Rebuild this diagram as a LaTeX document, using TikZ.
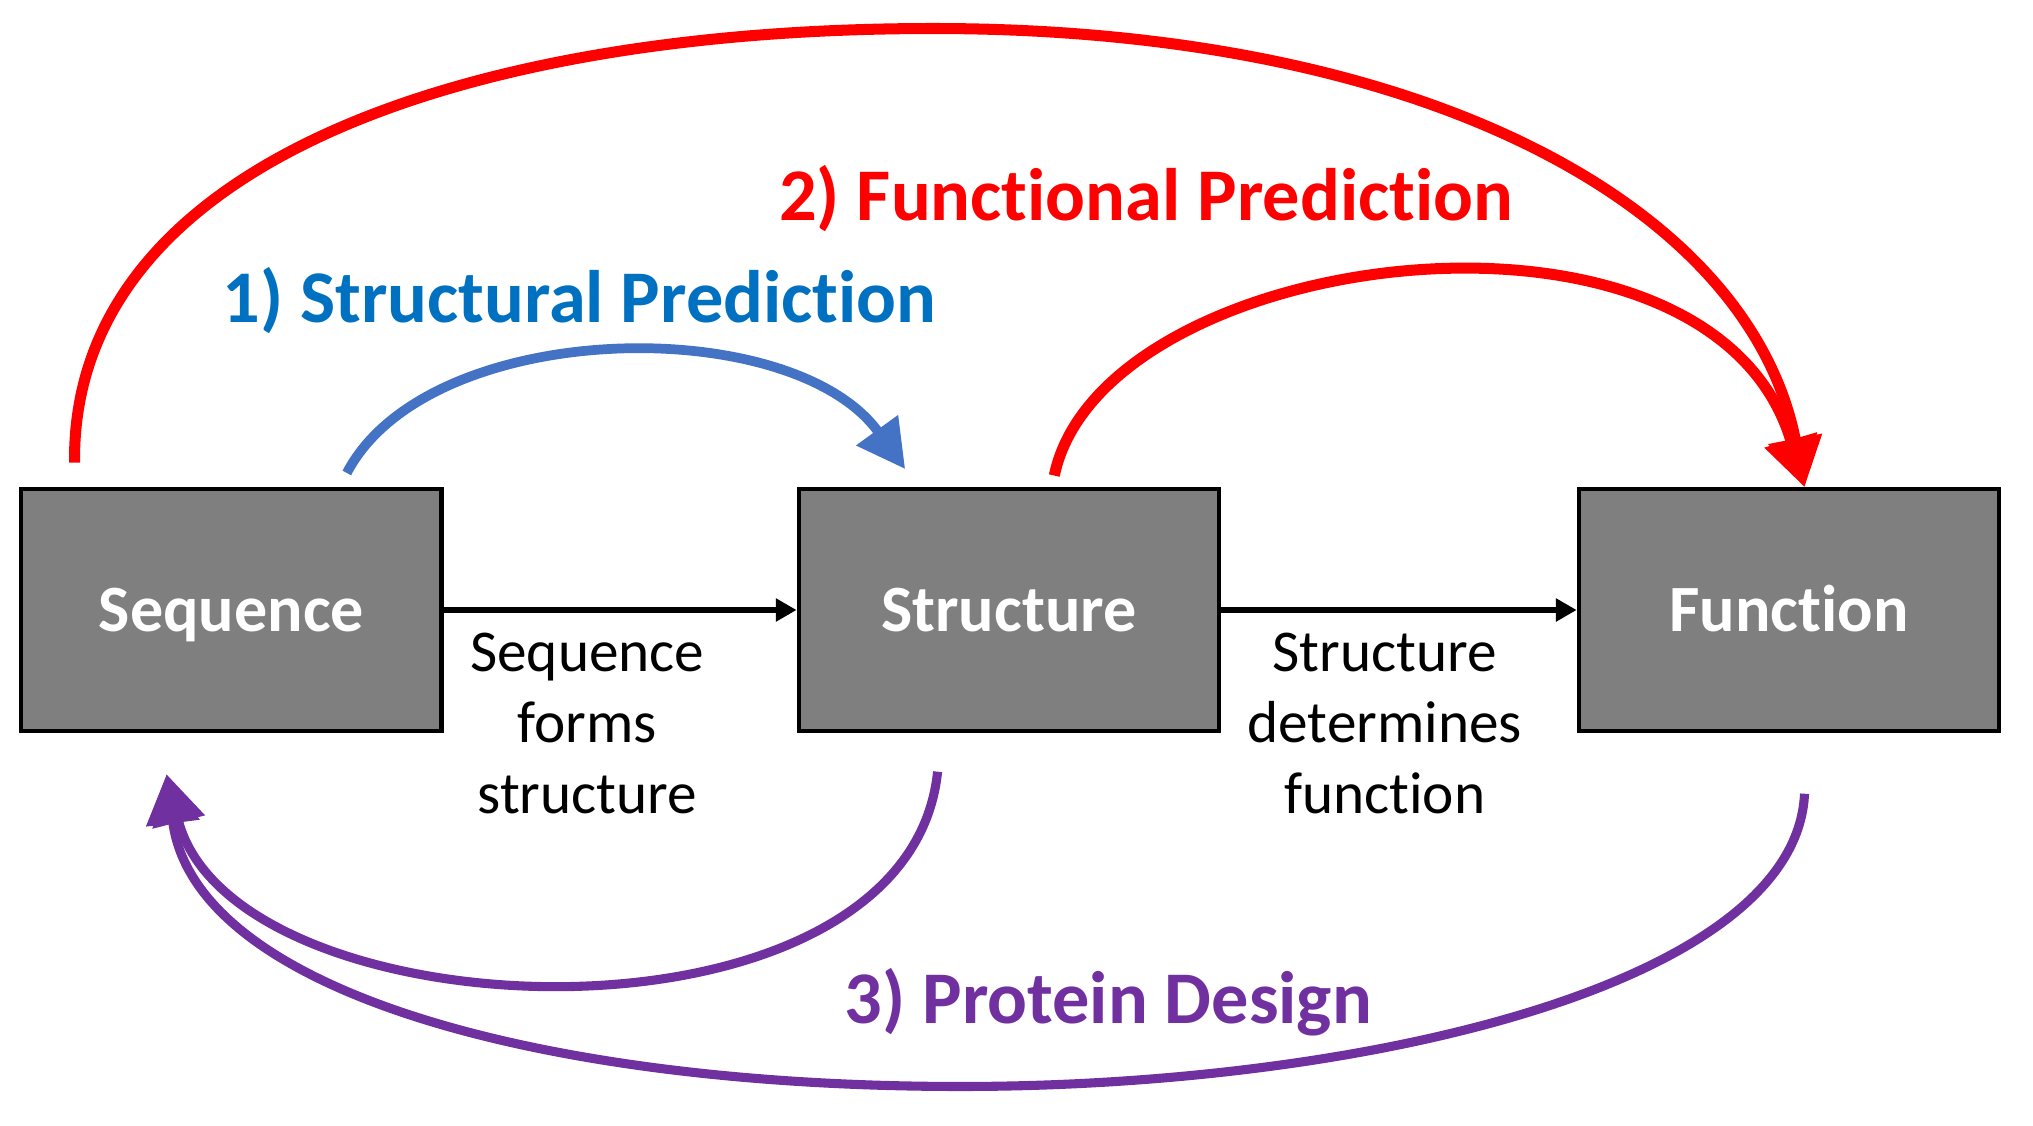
\documentclass[tikz,border=0pt]{standalone}
\usepackage{fontspec}
\setmainfont{Carlito}[Ligatures=NoCommon]
\usetikzlibrary{positioning,calc,arrows.meta}

\definecolor{boxgray}{HTML}{7F7F7F}
\definecolor{predblue}{HTML}{4472C4}
\definecolor{predbluetext}{HTML}{0070C0}
\definecolor{designpurple}{HTML}{7030A0}

\tikzset{
  box/.style={draw=black, line width=0.033cm, fill=boxgray, minimum width=3.24cm,
    minimum height=1.86cm, inner sep=0pt, text=white, text height=0.33cm, text depth=0pt,
    font=\fontsize{14.5}{17}\selectfont\bfseries},
  link/.style={line width=0.04cm, -{Triangle[length=0.16cm,width=0.17cm]}},
  note/.style={align=center, font=\fontsize{13}{15.6}\selectfont},
  title/.style={font=\fontsize{16.3}{19}\selectfont\bfseries},
  bluearc/.style={predblue, line width=0.075cm, -{Triangle[length=0.37cm,width=0.38cm]}},
  redarc/.style={red, line width=0.085cm, -{Triangle[length=0.38cm,width=0.4cm]}},
  purparc/.style={designpurple, line width=0.07cm, -{Triangle[length=0.38cm,width=0.4cm]}},
}

\begin{document}
\begin{tikzpicture}[x=0.01cm,y=-0.01cm]
\useasboundingbox (0,0) rectangle (1568,868);

\node[box] (seq) at (178.5,470.5) {Sequence};
\node[box, right=2.72cm of seq] (struc) {Structure};
\node[box, right=2.74cm of struc] (func) {Function};

\draw[link] (seq) -- (struc);
\draw[link] (struc) -- (func);

\node[note] (seqnote) at (453,558) {Sequence\\forms\\structure};
\node[note] (strucnote) at (1068,558) {Structure\\determines\\function};

\node[title, text=predbluetext] (sptitle) at (447,232) {1) Structural Prediction};
\node[title, text=red] (fptitle) at (884,153) {2) Functional Prediction};
\node[title, text=designpurple] (pdtitle) at (855,773) {3) Protein Design};

% 1) structural prediction
\draw[bluearc] ($(seq.north)+(89,-11)$) .. controls (330,245) and (610,240) .. ($(struc.north)+(-80,-14)$);

% 2) functional prediction
\draw[redarc] ($(seq.north)+(-121,-19)$) .. controls (55,130) and (350,22) .. (720,22)
  .. controls (1100,22) and (1350,160) .. ($(func.north)+(12,0)$);
\draw[redarc] ($(struc.north)+(35,-9)$) .. controls (850,190) and (1320,130) .. ($(func.north)+(12,0)$);

% 3) protein design
\draw[purparc] ($(struc.south)+(-55,30)$) .. controls (700,820) and (180,800) .. ($(seq.south)+(-50,32)$);
\draw[purparc] ($(func.south)+(12,47)$) .. controls (1385,760) and (1050,838) .. (741,838)
  .. controls (420,838) and (150,765) .. ($(seq.south)+(-50,32)$);
\end{tikzpicture}
\end{document}
